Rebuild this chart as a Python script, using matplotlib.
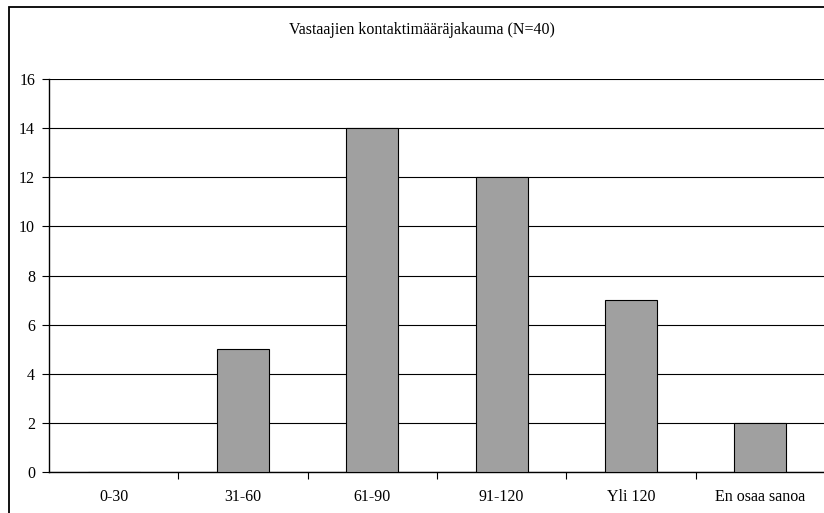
import matplotlib.pyplot as plt
from matplotlib.patches import Rectangle

categories = ['0-30', '31-60', '61-90', '91-120', 'Yli 120', 'En osaa sanoa']
counts = [0, 5, 14, 12, 7, 2]
yticks = [0, 2, 4, 6, 8, 10, 12, 14, 16]

plt.rcParams['font.family'] = ['Liberation Serif', 'DejaVu Serif']

fig = plt.figure(figsize=(8.24, 5.13), dpi=100)
ax = fig.add_axes([49 / 824, 1 - 472 / 513, 776 / 824, (472 - 79) / 513])

# outer chart frame
fig.patches.append(Rectangle((9 / 824, -0.02), 1.0, 1 - 7 / 513 + 0.02,
                             transform=fig.transFigure, fill=False,
                             edgecolor='black', linewidth=1.3, clip_on=False))

x = range(len(categories))
ax.bar(x, counts, width=0.4, color='#a0a0a0', edgecolor='black', linewidth=0.8, zorder=3)

ax.set_xlim(-0.5, len(categories) - 0.5)
ax.set_ylim(0, 16)
ax.set_yticks(yticks)
ax.yaxis.grid(True, color='black', linewidth=0.8, zorder=0)
ax.set_axisbelow(True)

# ticks between categories, labels centred under bars
ax.set_xticks([i + 0.5 for i in range(len(categories) - 1)], minor=False)
ax.set_xticklabels([])
ax.set_xticks(list(x), minor=True)
ax.set_xticklabels(categories, minor=True)
ax.tick_params(axis='x', which='major', length=5, direction='out', width=0.8)
ax.tick_params(axis='x', which='minor', length=0, pad=12.5, labelsize=11.5)
ax.tick_params(axis='y', length=5, direction='out', width=0.8, pad=5, labelsize=11.5)

for side in ['top', 'right']:
    ax.spines[side].set_visible(False)
ax.spines['left'].set_linewidth(1.0)
ax.spines['bottom'].set_linewidth(1.0)

fig.text(421.5 / 824, 1 - 30 / 513, 'Vastaajien kontaktimääräjakauma (N=40)',
         ha='center', va='center', fontsize=11.5)

fig.savefig('out.png', dpi=100)
